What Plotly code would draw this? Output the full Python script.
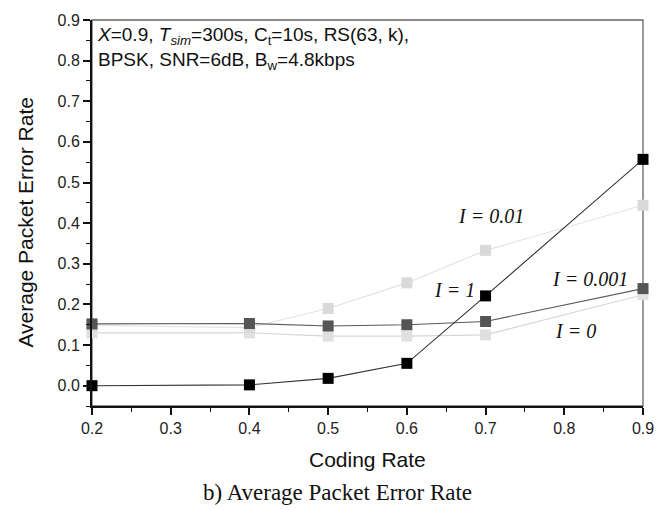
import plotly.graph_objects as go

# Coding rates (x) and average packet error rate per interference level
coding_rate = [0.2, 0.4, 0.5, 0.6, 0.7, 0.9]
per_i0 = [0.130, 0.130, 0.122, 0.122, 0.125, 0.224]
per_i001 = [0.148, 0.143, 0.190, 0.253, 0.333, 0.444]
per_i0001 = [0.152, 0.153, 0.147, 0.150, 0.158, 0.239]
per_i1 = [0.000, 0.002, 0.018, 0.055, 0.221, 0.557]

x_ticks = [0.2, 0.3, 0.4, 0.5, 0.6, 0.7, 0.8, 0.9]
y_ticks = [0.0, 0.1, 0.2, 0.3, 0.4, 0.5, 0.6, 0.7, 0.8, 0.9]

series = [
    ("I = 0", per_i0, "#d6d6d6", "#e0e0e0"),
    ("I = 0.01", per_i001, "#e2e2e2", "#d9d9d9"),
    ("I = 0.001", per_i0001, "#5a5a5a", "#555555"),
    ("I = 1", per_i1, "#333333", "#000000"),
]

fig = go.Figure()
for name, ys, lc, mc in series:
    fig.add_trace(go.Scatter(
        x=coding_rate, y=ys, mode="lines+markers", name=name,
        line=dict(color=lc, width=1.1),
        marker=dict(symbol="square", size=11, color=mc, line=dict(width=0)),
        cliponaxis=False, showlegend=False,
    ))

# Curve labels (Times italic)
curve_labels = [
    ("I = 0.01", 0.707, 0.418),
    ("I = 1", 0.661, 0.236),
    ("I = 0.001", 0.833, 0.262),
    ("I = 0", 0.814, 0.134),
]
for txt, lx, ly in curve_labels:
    fig.add_annotation(x=lx, y=ly, text=f"<i>{txt}</i>", showarrow=False,
                       font=dict(family="Liberation Serif", size=20, color="#111"))

# Simulation parameters text in the upper-left corner
fig.add_annotation(
    xref="x domain", yref="y domain", x=0.0, y=1.0, xanchor="left", yanchor="top",
    xshift=3, yshift=-2, align="left", showarrow=False,
    text=("<i>X</i>=0.9, <i>T</i><sub><i>sim</i></sub>=300s, C<sub>t</sub>=10s, RS(63, k),<br>"
          "BPSK, SNR=6dB, B<sub>w</sub>=4.8kbps"),
    font=dict(family="Liberation Sans", size=19, color="#111"),
)

# Axis titles and caption
sans_title = dict(family="Liberation Sans", size=21, color="#111")
fig.add_annotation(xref="paper", yref="paper", x=0.5, y=-0.138, text="Coding Rate",
                   showarrow=False, xanchor="center", yanchor="middle", font=sans_title)
fig.add_annotation(xref="paper", yref="paper", x=-0.121, y=0.476,
                   text="Average Packet Error Rate", textangle=-90,
                   showarrow=False, xanchor="center", yanchor="middle", font=sans_title)
fig.add_annotation(
    xref="paper", yref="paper", x=0.445, y=-0.225, xanchor="center", yanchor="middle",
    text="b) Average Packet Error Rate", showarrow=False,
    font=dict(family="Liberation Serif", size=23, color="#111"),
)

# Thin grey frame (top/right), with the axis lines drawn over it
fig.add_shape(type="rect", xref="x domain", yref="y domain", x0=0, x1=1, y0=0, y1=1,
              line=dict(color="#666666", width=1.3), layer="below")

axis_common = dict(
    showgrid=False, zeroline=False, showline=True, linecolor="#111", linewidth=2,
    ticks="outside", ticklen=7, tickwidth=1.6, tickcolor="#111",
    tickfont=dict(family="Liberation Sans", size=16, color="#222"),
)

fig.update_xaxes(
    range=[0.2, 0.9], tickvals=x_ticks, ticktext=[f"{v:.1f}" for v in x_ticks],
    minor=dict(ticks="outside", ticklen=4, tickwidth=1.4, tickcolor="#111", dtick=0.05),
    **axis_common,
)
fig.update_yaxes(
    range=[-0.05, 0.9], tickvals=y_ticks, ticktext=[f"{v:.1f}" for v in y_ticks],
    minor=dict(ticks="outside", ticklen=4, tickwidth=1.4, tickcolor="#111",
               tick0=-0.05, dtick=0.1),
    **axis_common,
)

fig.update_layout(
    width=667, height=510,
    margin=dict(l=92, r=24, t=15, b=104),
    plot_bgcolor="white", paper_bgcolor="white",
)

fig.write_html("out.html")
